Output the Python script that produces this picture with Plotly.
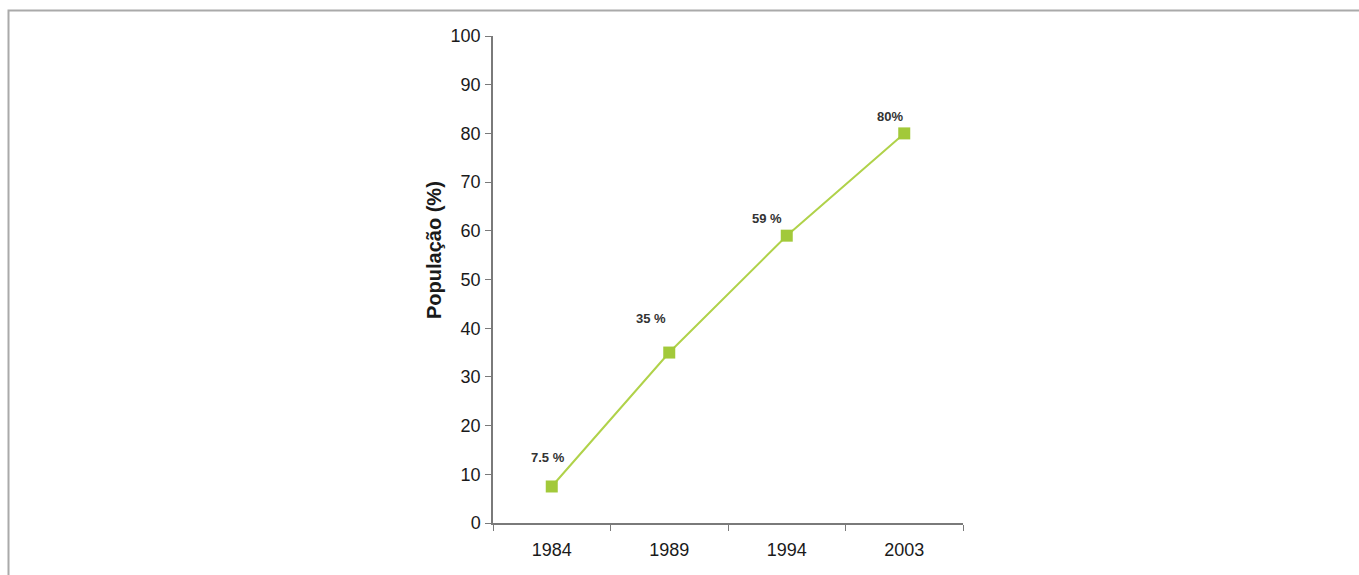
import plotly.graph_objects as go

# Share of the population, by survey year
years = ["1984", "1989", "1994", "2003"]
population_pct = [7.5, 35, 59, 80]
point_labels = ["7.5 %", "35 %", "59 %", "80%"]

# label offsets (px) relative to each marker
label_dx = [-4, -18, -20, -14]
label_dy = [29, 34, 17, 17]

W, H = 1359, 575
L, R, T, B = 493, 396, 36, 52
plot_w = W - L - R
plot_h = H - T - B

def px_to_paper_x(px):
    return (px - L) / plot_w

def px_to_paper_y(py):
    return (H - B - py) / plot_h

fig = go.Figure()
fig.add_trace(go.Scatter(
    x=years,
    y=population_pct,
    mode="lines+markers",
    line=dict(color="#b0d24a", width=2),
    marker=dict(symbol="square", size=12, color="#a2c93a"),
    hoverinfo="x+y",
    showlegend=False,
))

# value labels; category axes place annotations by category index
for i, (v, txt, dx, dy) in enumerate(zip(population_pct, point_labels, label_dx, label_dy)):
    fig.add_annotation(
        x=i, y=v, xref="x", yref="y", text=f"<b>{txt}</b>", showarrow=False,
        xshift=dx, yshift=dy,
        font=dict(family="Liberation Sans, Arial", size=13, color="#333333"),
    )

# y-axis title
fig.add_annotation(
    x=px_to_paper_x(421), y=px_to_paper_y(250), xref="paper", yref="paper",
    text="<b>População (%)</b>", textangle=-90, showarrow=False,
    font=dict(family="Liberation Sans, Arial", size=20, color="#1a1a1a"),
)

# page frame (top and left edges)
fig.add_shape(
    type="path", xref="paper", yref="paper",
    path=(f"M {px_to_paper_x(8.5)},{px_to_paper_y(H + 5)} "
          f"L {px_to_paper_x(8.5)},{px_to_paper_y(10.5)} "
          f"L {px_to_paper_x(W + 5)},{px_to_paper_y(10.5)}"),
    line=dict(color="#aaaaaa", width=2),
)

fig.update_layout(
    width=W, height=H,
    margin=dict(l=L, r=R, t=T, b=B),
    paper_bgcolor="white", plot_bgcolor="white",
    font=dict(family="Liberation Sans, Arial", color="#1a1a1a"),
    xaxis=dict(
        type="category", range=[-0.5, 3.5],
        showline=True, linecolor="#7a7a7a", linewidth=1.5,
        ticks="outside", tickson="boundaries", ticklen=6, tickcolor="#7a7a7a",
        showgrid=False, zeroline=False, ticklabelstandoff=10,
        tickfont=dict(size=18, color="#1a1a1a"),
    ),
    yaxis=dict(
        range=[0, 100], tickmode="linear", tick0=0, dtick=10,
        showline=True, linecolor="#7a7a7a", linewidth=1.5,
        ticks="outside", ticklen=6, tickcolor="#7a7a7a",
        showgrid=False, zeroline=False, ticklabelstandoff=1,
        tickfont=dict(size=18, color="#1a1a1a"),
    ),
)

fig.write_html("out.html")
